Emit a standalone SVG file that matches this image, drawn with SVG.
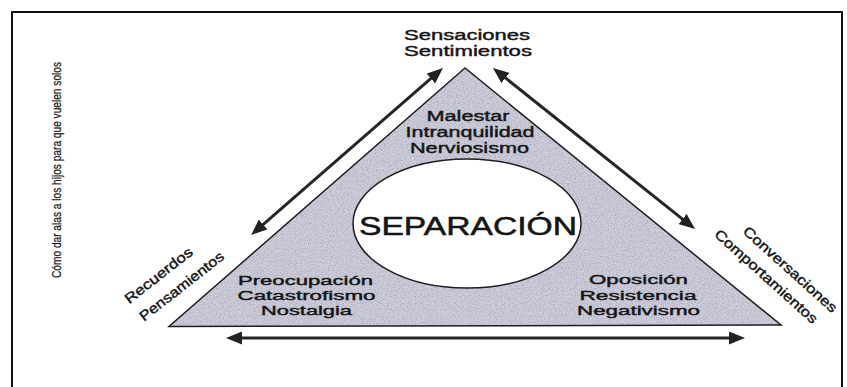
<svg xmlns="http://www.w3.org/2000/svg" width="847" height="387" viewBox="0 0 847 387">
  <defs>
    <marker id="head" viewBox="0 0 16 13" markerUnits="userSpaceOnUse" markerWidth="16" markerHeight="13" refX="2" refY="6.5" orient="auto-start-reverse">
      <path d="M0,0 L16,6.5 L0,13 z" fill="#222"/>
    </marker>
    <filter id="grain" x="0" y="0" width="100%" height="100%">
      <feTurbulence type="fractalNoise" baseFrequency="0.85" numOctaves="2" seed="3" result="n"/>
      <feColorMatrix in="n" type="matrix" values="0 0 0 0 0.35  0 0 0 0 0.35  0 0 0 0 0.42  0 0 0 -2.2 1.25" result="spk"/>
      <feComposite in="spk" in2="SourceGraphic" operator="in" result="s2"/>
      <feMerge><feMergeNode in="SourceGraphic"/><feMergeNode in="s2"/></feMerge>
    </filter>
  </defs>
  <style>
    text { font-family: "Liberation Sans", Arial, sans-serif; fill: #151515; stroke: #151515; stroke-width: 0.4; }
    .lbl { font-size: 14px; text-anchor: middle; }
    .sm { font-size: 13px; }
    .big { font-size: 25px; text-anchor: middle; stroke-width: 0.5; }
    .side { font-size: 12px; text-anchor: middle; fill: #222; stroke: #222; stroke-width: 0.25; }
    .conn line { stroke: #262626; stroke-width: 3; marker-start: url(#head); marker-end: url(#head); }
  </style>
  <rect x="0" y="0" width="847" height="387" fill="#ffffff"/>
  <rect id="frame" x="12" y="12" width="830" height="390" fill="none" stroke="#111" stroke-width="2"/>

  <g id="side-title">
    <text class="side" transform="translate(61,170) rotate(-90)" textLength="216" lengthAdjust="spacingAndGlyphs">Cómo dar alas a los hijos para que vuelen solos</text>
  </g>

  <g id="triangle">
    <polygon points="465,68 169,326.5 781,325" fill="#cdcddc" filter="url(#grain)"/>
    <polygon points="465,68 169,326.5 781,325" fill="none" stroke="#1e1e1e" stroke-width="1.5"/>
  </g>

  <g id="separacion">
    <ellipse cx="467" cy="223.5" rx="114" ry="64.5" fill="#ffffff" stroke="#1e1e1e" stroke-width="1.5"/>
    <text class="big" x="468" y="235" textLength="218" lengthAdjust="spacingAndGlyphs">SEPARACIÓN</text>
  </g>

  <g id="top-inner">
    <text class="lbl" x="468" y="121" textLength="83" lengthAdjust="spacingAndGlyphs">Malestar</text>
    <text class="lbl" x="470" y="137" textLength="129" lengthAdjust="spacingAndGlyphs">Intranquilidad</text>
    <text class="lbl" x="469.5" y="153" textLength="119" lengthAdjust="spacingAndGlyphs">Nerviosismo</text>
  </g>

  <g id="left-inner">
    <text class="lbl sm" x="305.5" y="285" textLength="135" lengthAdjust="spacingAndGlyphs">Preocupación</text>
    <text class="lbl sm" x="306.5" y="300" textLength="138" lengthAdjust="spacingAndGlyphs">Catastrofismo</text>
    <text class="lbl sm" x="306.5" y="315" textLength="91" lengthAdjust="spacingAndGlyphs">Nostalgia</text>
  </g>

  <g id="right-inner">
    <text class="lbl sm" x="638.5" y="284" textLength="99" lengthAdjust="spacingAndGlyphs">Oposición</text>
    <text class="lbl sm" x="638" y="299.5" textLength="117" lengthAdjust="spacingAndGlyphs">Resistencia</text>
    <text class="lbl sm" x="638.5" y="315" textLength="123" lengthAdjust="spacingAndGlyphs">Negativismo</text>
  </g>

  <g id="top-label">
    <text class="lbl" x="467" y="40" textLength="126" lengthAdjust="spacingAndGlyphs">Sensaciones</text>
    <text class="lbl" x="468" y="56" textLength="128" lengthAdjust="spacingAndGlyphs">Sentimientos</text>
  </g>

  <g id="left-label">
    <text class="lbl" transform="translate(161.5,279) rotate(-38)" textLength="82" lengthAdjust="spacingAndGlyphs">Recuerdos</text>
    <text class="lbl" transform="translate(184.5,290) rotate(-38)" textLength="103" lengthAdjust="spacingAndGlyphs">Pensamientos</text>
  </g>

  <g id="right-label">
    <text class="lbl" transform="translate(787,273) rotate(42)" textLength="121" lengthAdjust="spacingAndGlyphs">Conversaciones</text>
    <text class="lbl" transform="translate(763,280) rotate(42)" textLength="133" lengthAdjust="spacingAndGlyphs">Comportamientos</text>
  </g>

  <g id="connectors" class="conn">
    <line x1="432.4" y1="77.2" x2="261.6" y2="225.8"/>
    <line x1="503.9" y1="76.7" x2="684.1" y2="220.3"/>
    <line x1="240" y1="338" x2="731" y2="338"/>
  </g>
</svg>
